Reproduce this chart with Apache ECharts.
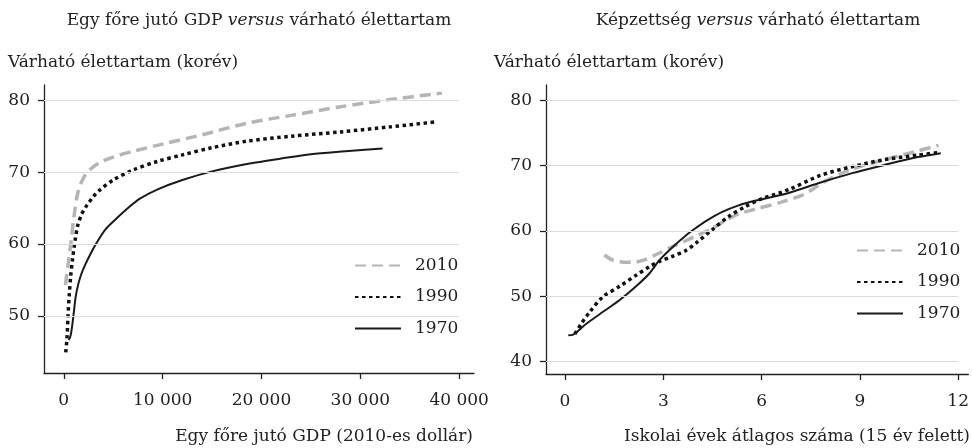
<!DOCTYPE html>
<html><head><meta charset="utf-8">
<script src="https://cdn.jsdelivr.net/npm/echarts@6/dist/echarts.min.js"></script>
<style>html,body{margin:0;padding:0;background:#fff}#c{width:972px;height:448px}</style>
</head><body><div id="c"></div>
<script>
// ---- data ----
const years = ['2010', '1990', '1970'];
const gdpTicks = [0, 10000, 20000, 30000, 40000];
const lifeTicksL = [50, 60, 70, 80];
const eduTicks = [0, 3, 6, 9, 12];
const lifeTicksR = [40, 50, 60, 70, 80];

// Left panel: GDP per capita vs life expectancy
const gdp2010X = [170, 450, 750, 1050, 1450, 2000, 2700, 3600, 5000, 7000, 10000, 14000, 18500, 23000, 28000, 33000, 38250];
const gdp2010Y = [54.3, 57.3, 60.5, 64.0, 67.3, 69.2, 70.4, 71.3, 72.1, 72.9, 73.9, 75.2, 76.8, 77.9, 79.1, 80.1, 81.0];
const gdp1990X = [200, 330, 430, 560, 700, 900, 1150, 1400, 1800, 2300, 3000, 3640, 5000, 7000, 9500, 12000, 15000, 18500, 23000, 28000, 33000, 37700];
const gdp1990Y = [44.9, 47.0, 50.0, 53.0, 55.5, 58.0, 60.5, 62.5, 64.1, 65.3, 66.6, 67.5, 68.9, 70.3, 71.5, 72.4, 73.4, 74.3, 75.0, 75.6, 76.3, 77.0];
const gdp1970X = [500, 700, 850, 1000, 1200, 1450, 1700, 2100, 2700, 3300, 4200, 5300, 6500, 7700, 9500, 12000, 15000, 18800, 22000, 25000, 28500, 32250];
const gdp1970Y = [46.6, 47.3, 48.6, 50.3, 52.6, 54.3, 55.5, 56.9, 58.6, 60.1, 62.0, 63.5, 65.0, 66.3, 67.6, 68.9, 70.1, 71.2, 71.9, 72.5, 72.9, 73.3];

// Right panel: schooling years vs life expectancy
const edu2010X = [1.2, 1.46, 1.8, 2.1, 2.4, 2.88, 3.38, 4.0, 4.5, 4.9, 5.3, 5.8, 6.6, 7.3, 7.9, 8.74, 9.75, 10.67, 11.4];
const edu2010Y = [56.3, 55.5, 55.2, 55.2, 55.5, 56.6, 57.8, 59.2, 60.4, 61.6, 62.6, 63.3, 64.4, 65.6, 67.5, 69.4, 70.9, 72.1, 73.1];
const edu1990X = [0.3, 0.5, 0.76, 1.16, 1.67, 2.17, 2.58, 2.88, 3.28, 3.69, 4.04, 4.5, 5.0, 5.5, 6.0, 6.82, 7.8, 8.74, 9.75, 10.77, 11.4];
const edu1990Y = [44.2, 45.8, 47.6, 49.9, 51.5, 53.2, 54.5, 55.3, 56.1, 57.0, 58.3, 60.2, 62.2, 63.7, 64.9, 66.3, 68.5, 69.8, 70.9, 71.6, 72.0];
const edu1970X = [0.1, 0.25, 0.45, 0.66, 1.16, 1.67, 2.17, 2.58, 2.88, 3.28, 3.69, 4.04, 4.3, 4.8, 5.3, 5.8, 6.82, 7.8, 8.74, 9.75, 10.77, 11.47];
const edu1970Y = [44.0, 44.1, 44.9, 45.8, 47.6, 49.4, 51.5, 53.5, 55.5, 57.5, 59.3, 60.6, 61.5, 62.9, 63.9, 64.6, 65.8, 67.4, 68.8, 70.1, 71.3, 71.9];

// ---- chart ----
const FONT = 'DejaVu Serif';
const FS = 17;
const TXT = '#222';
const pair = (xs, ys) => xs.map((x, i) => [x, ys[i]]);
const fmtThousands = v => String(v).replace(/\B(?=(\d{3})+(?!\d))/g, ' ');

const styles = {
  '2010': { color: '#b5b5b5', width: 3.5, type: [11, 6], cap: 'butt' },
  '1990': { color: '#111111', width: 3.5, type: [3.5, 3.5], cap: 'butt' },
  '1970': { color: '#1a1a1a', width: 2, type: 'solid', cap: 'butt' }
};

function lineSeries(name, data, idx) {
  const s = styles[name];
  return {
    name, type: 'line', data, xAxisIndex: idx, yAxisIndex: idx,
    symbol: 'none', smooth: 0.3, color: s.color, animation: false,
    lineStyle: { color: s.color, width: s.width, type: s.type, cap: s.cap },
    emphasis: { disabled: true }, z: 3
  };
}
function gridSeries(idx, ticks, xmin, xmax) {
  return {
    type: 'line', data: [], xAxisIndex: idx, yAxisIndex: idx, silent: true, z: 1,
    markLine: {
      symbol: 'none', silent: true, animation: false, label: { show: false },
      lineStyle: { color: '#dcdcdc', width: 1, type: 'solid' },
      emphasis: { disabled: true },
      data: ticks.map(v => [{ coord: [xmin, v] }, { coord: [xmax, v] }])
    }
  };
}
function xAxisCfg(idx, min, max, ticks, fmt) {
  return {
    type: 'value', gridIndex: idx, min, max,
    axisLine: { show: true, onZero: false, lineStyle: { color: '#222', width: 1.3 } },
    axisTick: { show: true, length: 6, customValues: ticks, lineStyle: { color: '#222', width: 1.3 } },
    axisLabel: { customValues: ticks, margin: 19, fontFamily: FONT, fontSize: FS, color: TXT, formatter: fmt },
    splitLine: { show: false }
  };
}
function yAxisCfg(idx, min, max, ticks) {
  return {
    type: 'value', gridIndex: idx, min, max,
    axisLine: { show: true, onZero: false, lineStyle: { color: '#222', width: 1.3 } },
    axisTick: { show: true, length: 6, customValues: ticks, lineStyle: { color: '#222', width: 1.3 } },
    axisLabel: { customValues: ticks, margin: 14, fontFamily: FONT, fontSize: FS, color: TXT },
    splitLine: { show: false }
  };
}
function textEl(text, x, y, align) {
  return {
    type: 'text', x, y, silent: true,
    style: {
      text, align, verticalAlign: 'middle', fill: TXT,
      font: FS + 'px "' + FONT + '"',
      rich: { i: { fontStyle: 'italic', fontFamily: FONT, fontSize: FS, fill: TXT } }
    }
  };
}
function legendCfg(left, top) {
  return {
    data: years, orient: 'vertical', left, top, padding: 0,
    itemWidth: 46, itemHeight: 20, itemGap: 14.5, selectedMode: false,
    itemStyle: { opacity: 0, borderWidth: 0 },
    textStyle: { fontFamily: FONT, fontSize: FS, color: TXT, padding: [0, 0, 0, 9] }
  };
}

const chart = echarts.init(document.getElementById('c'), null, { renderer: 'canvas' });
chart.setOption({
  backgroundColor: '#fff',
  animation: false,
  grid: [
    { left: 44, right: 498, top: 85, bottom: 75 },
    { left: 546, right: 1, top: 85, bottom: 74 }
  ],
  xAxis: [
    xAxisCfg(0, -2000, 41500, gdpTicks, fmtThousands),
    xAxisCfg(1, -0.58, 12.31, eduTicks, v => String(v))
  ],
  yAxis: [
    yAxisCfg(0, 42.03, 82.13, lifeTicksL),
    yAxisCfg(1, 38.07, 82.34, lifeTicksR)
  ],
  legend: [legendCfg(354, 257), legendCfg(856, 242)],
  graphic: [
    textEl('Egy főre jutó GDP {i|versus} várható élettartam', 259, 21, 'center'),
    textEl('Képzettség {i|versus} várható élettartam', 758, 21, 'center'),
    textEl('Várható élettartam (korév)', 8, 63, 'left'),
    textEl('Várható élettartam (korév)', 494, 63, 'left'),
    textEl('Egy főre jutó GDP (2010-es dollár)', 473, 437, 'right'),
    textEl('Iskolai évek átlagos száma (15 év felett)', 970, 437, 'right')
  ],
  series: [
    gridSeries(0, lifeTicksL, -2000, 40000),
    gridSeries(1, lifeTicksR, -0.58, 12),
    lineSeries('2010', pair(gdp2010X, gdp2010Y), 0),
    lineSeries('1990', pair(gdp1990X, gdp1990Y), 0),
    lineSeries('1970', pair(gdp1970X, gdp1970Y), 0),
    lineSeries('2010', pair(edu2010X, edu2010Y), 1),
    lineSeries('1990', pair(edu1990X, edu1990Y), 1),
    lineSeries('1970', pair(edu1970X, edu1970Y), 1)
  ]
});
</script>
</body></html>
